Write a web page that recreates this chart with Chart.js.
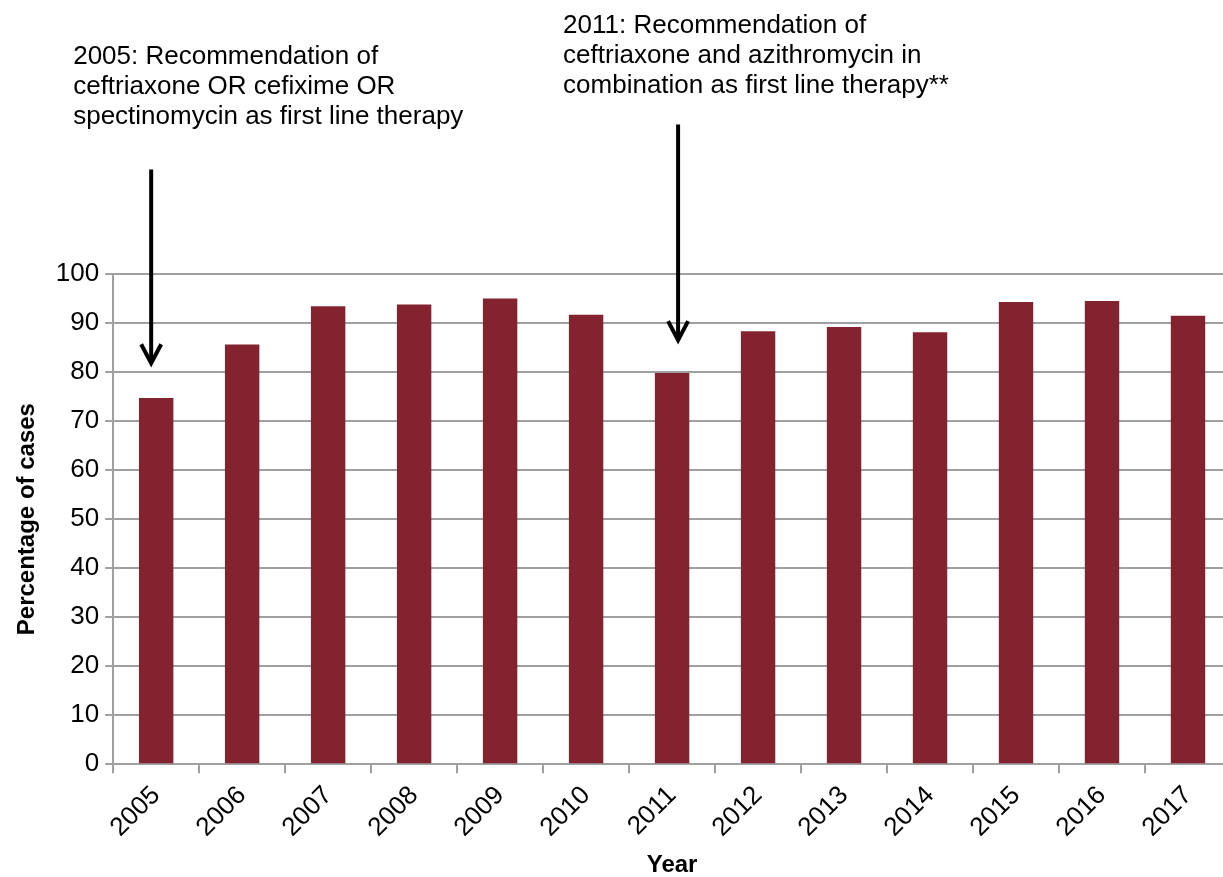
<!DOCTYPE html>
<html>
<head>
<meta charset="utf-8">
<script src="https://cdn.jsdelivr.net/npm/chart.js@4"></script>
<style>
  html, body { margin: 0; padding: 0; background: #fff; overflow: hidden; }
  #wrap { width: 1232px; height: 877px; }
</style>
</head>
<body>
<div id="wrap"><canvas id="myChart" width="1232" height="877"></canvas></div>
<script>
// data
const years = ['2005', '2006', '2007', '2008', '2009', '2010', '2011', '2012', '2013', '2014', '2015', '2016', '2017'];
const percentCases = [74.7, 85.6, 93.4, 93.8, 95.0, 91.7, 79.8, 88.3, 89.2, 88.1, 94.3, 94.5, 91.5];
const yTicks = [0, 10, 20, 30, 40, 50, 60, 70, 80, 90, 100];

// annotations : year the arrow points at, value where the arrow starts / ends, text lines
const noteYears = ['2005', '2011'];
const noteArrowFrom = [121.3, 130.5];
const noteArrowTo = [81.8, 86.5];
const noteLines = [
    ['2005: Recommendation of', 'ceftriaxone OR cefixime OR', 'spectinomycin as first line therapy'],
    ['2011: Recommendation of', 'ceftriaxone and azithromycin in', 'combination as first line therapy**']
];

const FONT = "'Liberation Sans', Arial, sans-serif";
const gridGrey = '#a0a0a0';

/* dessine les flèches + le texte */
const notesPlugin = {
    id: 'notes',
    afterDraw(chart) {
        const ctx = chart.ctx;
        const xs = chart.scales.x, ys = chart.scales.y;
        const arrowDx = [-5, 6];
        const textDx = [-78, -115];
        const textGap = [46, 31];
        noteYears.forEach((yr, i) => {
            const x = xs.getPixelForValue(years.indexOf(yr)) + arrowDx[i];
            const y0 = ys.getPixelForValue(noteArrowFrom[i]);
            const y1 = ys.getPixelForValue(noteArrowTo[i]);
            ctx.save();
            ctx.strokeStyle = '#000';
            ctx.lineWidth = 4;
            ctx.beginPath();
            ctx.moveTo(x, y0);
            ctx.lineTo(x, y1 - 1);
            ctx.stroke();
            ctx.beginPath();
            ctx.moveTo(x - 10, y1 - 19);
            ctx.lineTo(x, y1);
            ctx.lineTo(x + 10, y1 - 19);
            ctx.stroke();

            ctx.fillStyle = '#000';
            ctx.font = '26px ' + FONT;
            ctx.textBaseline = 'alphabetic';
            ctx.textAlign = 'left';
            const lines = noteLines[i];
            const lastBase = y0 - textGap[i];
            lines.forEach((t, k) => {
                ctx.fillText(t, x + textDx[i], lastBase - (lines.length - 1 - k) * 30);
            });
            ctx.restore();
        });
    }
};

let ctx = document.getElementById('myChart').getContext('2d');
let myChart = new Chart(ctx, {
    type: 'bar',
    data: {
        labels: years,
        datasets: [{
            label: 'Percentage of cases',
            data: percentCases,
            backgroundColor: '#83232f',
            borderWidth: 0,
            categoryPercentage: 1,
            barPercentage: 0.4
        }]
    },
    options: {
        responsive: false,
        animation: false,
        layout: { padding: { top: 274, right: 1, left: 13, bottom: 0 } },
        plugins: {
            legend: { display: false },
            tooltip: { enabled: false }
        },
        scales: {
            x: {
                grid: { offset: true, drawOnChartArea: false, tickLength: 9, color: gridGrey, lineWidth: 2 },
                border: { color: gridGrey, width: 2 },
                ticks: { color: '#000', font: { family: FONT, size: 26 }, maxRotation: 45, minRotation: 45, padding: 7 },
                title: { display: true, text: 'Year', color: '#000', font: { family: FONT, size: 24, weight: 'bold' }, padding: { top: 1, bottom: -3 } }
            },
            y: {
                min: 0,
                max: 100,
                afterBuildTicks: (axis) => { axis.ticks = yTicks.map(v => ({ value: v })); },
                grid: { color: gridGrey, lineWidth: 2, tickLength: 8 },
                border: { color: gridGrey, width: 2 },
                ticks: { color: '#000', font: { family: FONT, size: 26 }, padding: 6 },
                title: { display: true, text: 'Percentage of cases', color: '#000', font: { family: FONT, size: 24, weight: 'bold' }, padding: { top: 0, bottom: 8 } }
            }
        }
    },
    plugins: [notesPlugin]
});
</script>
</body>
</html>
